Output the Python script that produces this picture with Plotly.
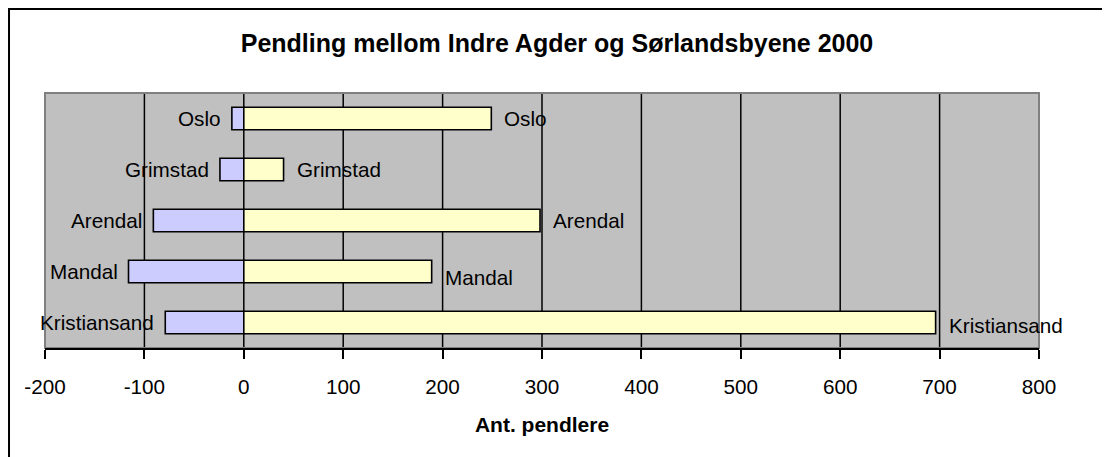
import plotly.graph_objects as go

# -----------------------------
# Data
# -----------------------------
byer = ["Kristiansand", "Mandal", "Arendal", "Grimstad", "Oslo"]
ut_pendlere = [-79, -116, -91, -24, -12]      # blå stolper (venstre)
inn_pendlere = [696, 189, 298, 40, 249]       # gule stolper (høyre)

x_range = [-200, 800]
x_ticks = [-200, -100, 0, 100, 200, 300, 400, 500, 600, 700, 800]
x_ticktext = ["-200", "-100", "0", "100", "200", "300", "400", "500", "600", "700", "800"]

FONT = "Liberation Sans, Arial, sans-serif"
LABEL_SIZE = 20.7

# page has an 8px body margin, so the figure is drawn 8px smaller
W, H = 1102, 449

# small vertical nudges of the right-hand labels, as in the original
label_nudge = {"Kristiansand": -3, "Mandal": -6}

# -----------------------------
# Plot
# -----------------------------
fig = go.Figure()

fig.add_trace(go.Bar(
    y=byer,
    x=ut_pendlere,
    orientation="h",
    marker=dict(color="#CCCCFF", line=dict(color="black", width=1.6)),
    showlegend=False,
    hoverinfo="x+y",
))

fig.add_trace(go.Bar(
    y=byer,
    x=inn_pendlere,
    orientation="h",
    marker=dict(color="#FFFFCC", line=dict(color="black", width=1.6)),
    showlegend=False,
    hoverinfo="x+y",
))

# data labels (category name at the end of each bar)
for by, v in zip(byer, ut_pendlere):
    fig.add_annotation(x=v, y=by, text=by, showarrow=False,
                       xanchor="right", xshift=-9,
                       font=dict(family=FONT, size=LABEL_SIZE, color="black"))
for by, v in zip(byer, inn_pendlere):
    fig.add_annotation(x=v, y=by, text=by, showarrow=False,
                       xanchor="left", xshift=11, yshift=label_nudge.get(by, 0),
                       font=dict(family=FONT, size=LABEL_SIZE, color="black"))

# vertical grid lines (not on the plot edges)
for t in x_ticks[1:-1]:
    fig.add_shape(type="line", xref="x", yref="paper",
                  x0=t, x1=t, y0=0, y1=1,
                  line=dict(color="black", width=1.5), layer="below")

# plot area edge
fig.add_shape(type="rect", xref="paper", yref="paper",
              x0=0, x1=1, y0=0, y1=1,
              line=dict(color="#808080", width=2), layer="below")

# chart frame (runs off the picture at right and bottom)
fig.add_shape(type="rect", xref="paper", yref="paper",
              x0=-0.0362, x1=1.3, y0=-0.8, y1=1.329,
              line=dict(color="black", width=2), layer="above")

fig.update_layout(
    width=W,
    height=H,
    margin=dict(l=37, r=71, t=85, b=109),
    barmode="overlay",
    bargap=0.56,
    plot_bgcolor="#C0C0C0",
    paper_bgcolor="white",
    font=dict(family=FONT, size=LABEL_SIZE, color="black"),
    title=dict(
        text="<b>Pendling mellom Indre Agder og Sørlandsbyene 2000</b>",
        x=549 / W, xref="container", xanchor="center",
        y=1 - 35 / H, yref="container", yanchor="middle",
        font=dict(family=FONT, size=25, color="black"),
    ),
    xaxis=dict(
        range=x_range,
        tickvals=x_ticks,
        ticktext=x_ticktext,
        showgrid=False,
        zeroline=False,
        showline=True,
        linecolor="black",
        linewidth=2,
        ticks="outside",
        ticklen=9,
        tickwidth=2,
        tickcolor="black",
        ticklabelstandoff=10,
        tickfont=dict(family=FONT, size=LABEL_SIZE),
        title=dict(text="<b>Ant. pendlere</b>", standoff=20,
                   font=dict(family=FONT, size=21)),
    ),
    yaxis=dict(
        showticklabels=False,
        showgrid=False,
        zeroline=False,
        showline=False,
        ticks="",
    ),
)

fig.write_html("out.html")
